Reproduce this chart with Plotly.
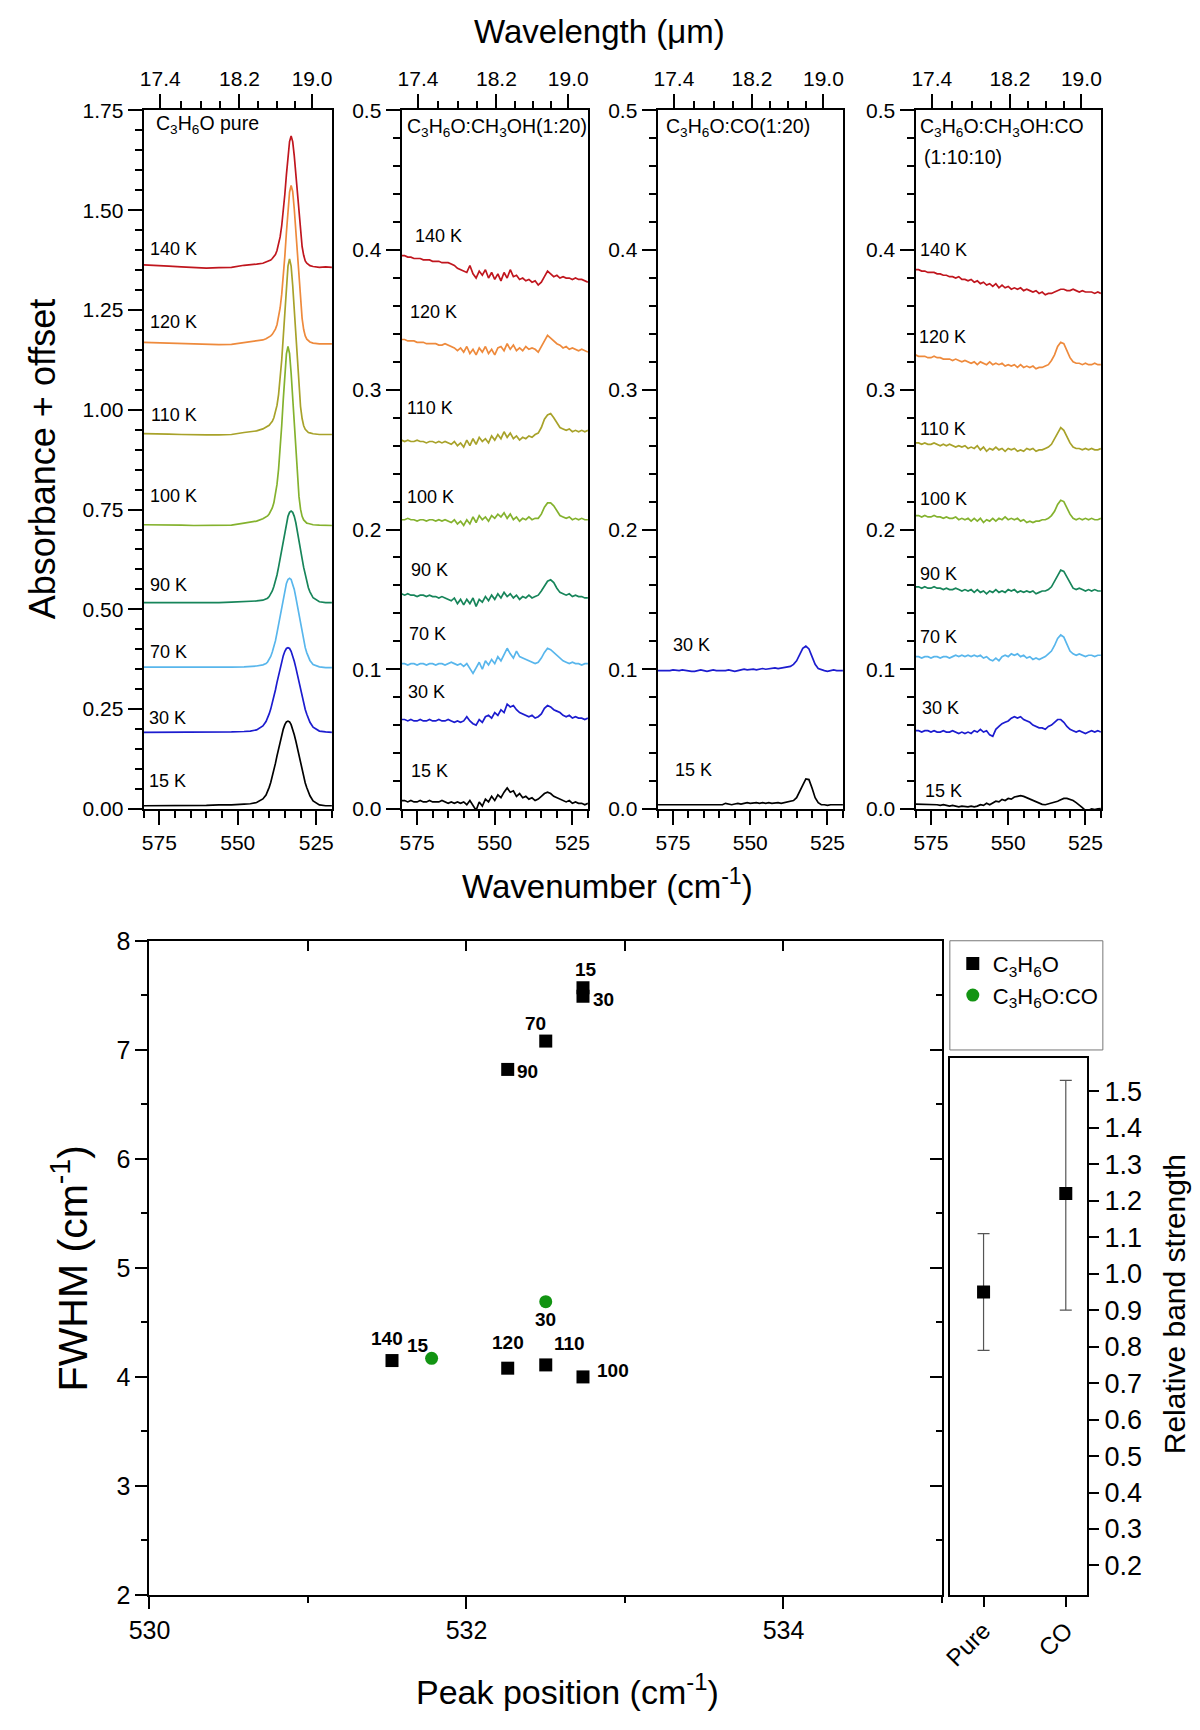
import plotly.graph_objects as go

W, H = 1200, 1730
FONT = "Liberation Sans, Arial, sans-serif"

# ---------------- DATA ----------------
TEMPS = ["140 K", "120 K", "110 K", "100 K", "90 K", "70 K", "30 K", "15 K"]

# wavelength ticks of the top axes (micrometres)
WL_MAJOR = [17.4, 18.2, 19.0]
WL_MINOR = [17.6, 17.8, 18.0, 18.4, 18.6, 18.8]

# Panel 1: pure C3H6O (absorbance, offsets added below)
X_P1 = [580, 576, 572, 568, 564, 560, 556, 552, 548, 546, 544, 542,
        541, 540.5, 540, 539.5, 539, 538.5, 538, 537.5, 537, 536.5, 536, 535.5, 535, 534.5,
        534, 533.5, 533, 532.5, 532, 531.5, 531, 530.5, 530, 529.5, 529, 528.5, 528, 527.5, 527,
        526, 524, 522, 520]
P1_140 = [.008, .007, .005, .003, .001, .000, .001, .002, .007, .008, .010, .012,
          .015, .016, .018, .020, .024, .028, .034, .044, .058, .078, .106, .142, .185, .234,
          .281, .317, .331, .317, .281, .232, .179, .130, .087, .054, .032, .018, .012, .009, .006,
          .004, .002, .003, .002]
P1_120 = [.009, .008, .007, .006, .004, .003, .003, .004, .008, .010, .012, .015,
          .018, .020, .022, .025, .029, .034, .042, .053, .070, .095, .129, .172, .225, .284,
          .342, .385, .402, .387, .343, .284, .220, .160, .108, .069, .041, .025, .017, .013, .010,
          .007, .005, .005, .005]
P1_110 = [.005, .005, .004, .003, .002, .002, .002, .003, .008, .010, .012, .017,
          .021, .023, .026, .031, .036, .045, .058, .076, .103, .141, .189, .248, .313, .376,
          .425, .443, .425, .377, .311, .241, .175, .117, .073, .043, .025, .016, .012, .008, .007,
          .005, .003, .003, .003]
P1_100 = [.003, .003, .002, .002, .001, .001, .001, .002, .007, .010, .012, .018,
          .022, .025, .030, .036, .045, .058, .077, .104, .142, .192, .251, .317, .382, .431,
          .450, .432, .383, .316, .244, .177, .118, .074, .042, .024, .015, .011, .007, .006, .005,
          .003, .002, .001, .001]
P1_90 = [.002, .002, .002, .001, .001, .002, .002, .003, .004, .005, .006, .008,
         .011, .013, .017, .023, .031, .042, .055, .071, .091, .112, .136, .160, .182, .202,
         .218, .228, .231, .228, .218, .202, .182, .160, .136, .112, .090, .070, .053, .039, .029,
         .014, .004, .002, .002]
P1_70 = [.003, .003, .002, .002, .002, .002, .002, .003, .004, .005, .006, .009,
         .012, .016, .022, .030, .041, .054, .069, .089, .110, .133, .156, .178, .198, .213,
         .223, .226, .223, .213, .198, .178, .156, .133, .110, .088, .069, .052, .039, .028, .020,
         .010, .004, .002, .002]
P1_30 = [.002, .002, .002, .002, .002, .002, .003, .003, .004, .005, .008, .018,
         .029, .037, .048, .060, .074, .090, .108, .127, .146, .164, .180, .194, .205, .212,
         .214, .212, .205, .194, .180, .164, .146, .127, .108, .090, .074, .059, .047, .036, .027,
         .015, .005, .003, .002]
P1_15 = [.008, .008, .008, .009, .009, .009, .010, .010, .012, .013, .016, .025,
         .035, .043, .054, .066, .080, .096, .114, .133, .152, .170, .186, .200, .211, .218,
         .220, .218, .211, .200, .186, .170, .152, .133, .114, .096, .080, .065, .053, .042, .033,
         .020, .010, .008, .008]
OFFSET_P1 = {"140 K": 1.355, "120 K": 1.16, "110 K": 0.935, "100 K": 0.709,
             "90 K": 0.515, "70 K": 0.352, "30 K": 0.19, "15 K": 0.0}

# common wavenumber grid for panels 2-4 (absorbance + offset read directly)
X_GRID = [580, 579, 578, 577, 576, 575, 574, 573, 572, 571,
          570, 569, 568, 567, 566, 565, 564, 563, 562, 561,
          560, 559, 558, 557, 556, 555, 554, 553, 552, 551,
          550, 549, 548, 547, 546, 545, 544, 543, 542, 541,
          540, 539, 538, 537, 536, 535, 534, 533, 532, 531,
          530, 529, 528, 527, 526, 525, 524, 523, 522, 521,
          520]

# Panel 2: C3H6O:CH3OH (1:20)
P2_140 = [.396, .396, .395, .395, .394, .394, .394, .393, .393, .393,
          .392, .392, .392, .391, .391, .391, .390, .389, .387, .386,
          .385, .384, .389, .383, .380, .385, .382, .386, .380, .384,
          .379, .383, .378, .384, .380, .386, .381, .382, .379, .380,
          .378, .379, .377, .378, .375, .377, .381, .385, .383, .381,
          .382, .380, .381, .380, .380, .379, .380, .379, .379, .378,
          .377]
P2_120 = [.336, .336, .335, .335, .335, .334, .334, .334, .333, .333,
          .333, .333, .332, .332, .333, .332, .331, .330, .328, .330,
          .327, .331, .326, .329, .325, .330, .327, .331, .326, .329,
          .325, .330, .331, .328, .333, .329, .332, .328, .330, .328,
          .331, .329, .330, .329, .327, .331, .336, .339, .337, .335,
          .333, .332, .330, .331, .329, .330, .329, .328, .329, .328,
          .327]
P2_110 = [.264, .263, .264, .263, .263, .264, .263, .263, .262, .263,
          .263, .262, .263, .262, .263, .262, .261, .263, .260, .262,
          .259, .264, .260, .265, .261, .266, .263, .265, .262, .267,
          .264, .268, .265, .270, .266, .269, .265, .267, .264, .266,
          .265, .267, .266, .268, .269, .273, .279, .282, .283, .280,
          .276, .273, .272, .271, .272, .270, .271, .270, .271, .270,
          .271]
P2_100 = [.207, .207, .208, .207, .207, .206, .207, .207, .206, .207,
          .207, .206, .207, .206, .207, .206, .205, .207, .204, .206,
          .203, .207, .204, .209, .205, .210, .207, .209, .206, .210,
          .208, .211, .209, .212, .208, .211, .207, .209, .206, .208,
          .207, .209, .207, .208, .208, .211, .216, .219, .219, .217,
          .213, .210, .209, .208, .209, .207, .208, .207, .208, .207,
          .207]
P2_90 = [.154, .153, .154, .153, .153, .152, .153, .153, .152, .153,
         .152, .152, .151, .152, .151, .150, .149, .151, .147, .150,
         .146, .150, .147, .151, .145, .150, .148, .152, .149, .153,
         .150, .154, .151, .155, .152, .154, .151, .153, .150, .152,
         .151, .153, .151, .152, .153, .156, .160, .163, .164, .162,
         .158, .155, .154, .153, .154, .152, .153, .152, .152, .151,
         .151]
P2_70 = [.104, .104, .103, .104, .104, .103, .104, .104, .103, .104,
         .104, .103, .104, .104, .103, .104, .105, .104, .103, .104,
         .102, .104, .100, .097, .101, .105, .100, .106, .103, .107,
         .104, .109, .106, .110, .115, .111, .108, .113, .109, .108,
         .107, .106, .105, .104, .105, .108, .112, .115, .114, .112,
         .110, .108, .106, .105, .104, .105, .104, .104, .103, .104,
         .104]
P2_30 = [.064, .064, .063, .064, .063, .063, .064, .063, .063, .064,
         .063, .063, .064, .063, .063, .064, .063, .062, .063, .062,
         .063, .066, .063, .061, .060, .064, .062, .066, .067, .065,
         .069, .067, .071, .069, .075, .073, .074, .071, .069, .068,
         .067, .066, .067, .065, .066, .068, .072, .074, .073, .071,
         .070, .069, .067, .066, .067, .065, .066, .065, .065, .064,
         .065]
P2_15 = [.006, .006, .005, .006, .005, .005, .006, .005, .005, .006,
         .005, .005, .005, .006, .005, .004, .005, .004, .005, .004,
         .005, .003, .006, .002, -.001, .005, .002, .007, .005, .009,
         .006, .010, .008, .012, .015, .012, .013, .009, .011, .008,
         .009, .007, .008, .006, .007, .009, .011, .012, .011, .009,
         .008, .007, .006, .005, .006, .004, .005, .004, .004, .003,
         .004]

# Panel 3: C3H6O:CO (1:20)
P3_30 = [.099, .099, .099, .0985, .099, .0995, .099, .099, .0995, .099,
         .099, .0985, .0985, .099, .0995, .099, .0985, .099, .0995, .099,
         .099, .0985, .099, .0995, .099, .0985, .099, .0995, .100, .0995,
         .100, .100, .0995, .100, .1005, .100, .1005, .1005, .101, .1005,
         .101, .101, .1015, .102, .1035, .106, .1105, .115, .1165, .1145,
         .109, .1035, .1005, .0995, .099, .0985, .099, .0995, .099, .099,
         .099]
P3_15 = [.003, .003, .003, .003, .0035, .003, .003, .003, .003, .0035,
         .003, .003, .003, .0035, .003, .003, .003, .0035, .003, .003,
         .0035, .003, .004, .0035, .003, .0035, .004, .0035, .004, .0045,
         .004, .0045, .0045, .004, .0045, .004, .0045, .004, .0045, .0045,
         .004, .0045, .005, .005, .006, .008, .012, .017, .0215, .021,
         .015, .008, .0045, .003, .003, .0025, .003, .003, .0025, .003,
         .003]

# Panel 4: C3H6O:CH3OH:CO (1:10:10)
P4_140 = [.386, .386, .385, .385, .384, .384, .384, .383, .383, .382,
          .382, .381, .381, .380, .381, .379, .379, .378, .379, .377,
          .378, .376, .377, .375, .376, .374, .376, .373, .375, .373,
          .374, .372, .373, .372, .373, .371, .372, .371, .370, .371,
          .369, .370, .368, .369, .369, .370, .371, .372, .372, .371,
          .371, .372, .371, .370, .371, .370, .370, .370, .369, .370,
          .369]
P4_120 = [.325, .324, .324, .324, .323, .323, .324, .323, .323, .322,
          .322, .322, .321, .322, .321, .320, .321, .320, .319, .320,
          .318, .320, .319, .318, .320, .318, .319, .318, .319, .317,
          .318, .317, .318, .316, .318, .316, .317, .316, .317, .315,
          .316, .316, .317, .318, .321, .325, .331, .334, .333, .328,
          .323, .320, .319, .319, .318, .319, .318, .318, .319, .318,
          .318]
P4_110 = [.262, .262, .261, .262, .261, .261, .262, .261, .260, .261,
          .260, .261, .260, .259, .260, .259, .260, .258, .259, .258,
          .260, .257, .259, .256, .258, .257, .259, .257, .258, .256,
          .258, .257, .258, .256, .257, .256, .258, .257, .258, .256,
          .257, .257, .258, .259, .261, .265, .270, .273, .271, .266,
          .262, .259, .258, .258, .257, .258, .257, .258, .257, .257,
          .258]
P4_100 = [.210, .210, .209, .210, .209, .209, .210, .209, .209, .208,
          .209, .208, .208, .209, .207, .208, .207, .208, .206, .208,
          .206, .208, .205, .207, .206, .208, .206, .208, .207, .209,
          .207, .208, .207, .208, .206, .207, .205, .206, .205, .206,
          .206, .207, .207, .208, .210, .213, .218, .221, .220, .215,
          .211, .208, .207, .208, .207, .208, .207, .208, .207, .207,
          .208]
P4_90 = [.159, .159, .158, .159, .158, .158, .159, .158, .158, .157,
         .158, .157, .157, .158, .157, .156, .157, .156, .157, .155,
         .157, .155, .156, .154, .156, .155, .157, .155, .156, .155,
         .157, .156, .157, .155, .156, .155, .156, .155, .156, .154,
         .155, .156, .156, .157, .159, .163, .168, .171, .170, .166,
         .161, .158, .157, .158, .157, .156, .157, .156, .157, .156,
         .156]
P4_70 = [.109, .109, .108, .109, .109, .108, .109, .109, .108, .109,
         .109, .108, .109, .110, .109, .110, .109, .110, .109, .110,
         .109, .110, .108, .109, .107, .106, .108, .106, .109, .110,
         .109, .111, .110, .111, .109, .110, .108, .109, .107, .108,
         .107, .108, .109, .111, .113, .117, .122, .1245, .123, .118,
         .113, .111, .110, .111, .110, .109, .110, .110, .109, .110,
         .110]
P4_30 = [.056, .056, .055, .056, .056, .055, .056, .055, .055, .056,
         .055, .055, .056, .055, .054, .055, .054, .055, .054, .056,
         .055, .057, .055, .056, .053, .052, .057, .059, .061, .062,
         .063, .065, .066, .065, .066, .064, .063, .062, .060, .059,
         .058, .058, .057, .059, .060, .062, .064, .064, .062, .059,
         .057, .056, .055, .056, .055, .054, .055, .056, .055, .056,
         .055]
P4_15 = [.0035, .0035, .003, .0035, .003, .003, .0035, .003, .0025, .003,
         .0025, .002, .0025, .002, .0015, .002, .0015, .0015, .002, .0015,
         .002, .003, .0025, .004, .003, .0045, .0055, .005, .0068, .006,
         .0075, .007, .0085, .009, .0095, .009, .008, .007, .006, .005,
         .004, .0033, .003, .0035, .004, .005, .0055, .0065, .0075, .0075,
         .007, .006, .0045, .003, .001, -.0012, -.001, 0, -.0005, 0,
         .0002]

# Bottom: FWHM vs peak position
PURE_TEMP = ["15", "30", "70", "90", "140", "120", "110", "100"]
PURE_POS = [532.735, 532.735, 532.50, 532.26, 531.53, 532.26, 532.50, 532.735]
PURE_FWHM = [7.57, 7.49, 7.08, 6.82, 4.15, 4.08, 4.11, 4.00]
CO_TEMP = ["15", "30"]
CO_POS = [531.78, 532.50]
CO_FWHM = [4.17, 4.69]

# Inset: relative band strength
BS_CAT = ["Pure", "CO"]
BS_VAL = [0.95, 1.22]
BS_ERR_PLUS = [0.16, 0.31]
BS_ERR_MINUS = [0.16, 0.32]

# ---------------- STYLE ----------------
COLORS = {"140 K": "#C0161E", "120 K": "#EE8A3C", "110 K": "#A8A22A", "100 K": "#84B22E",
          "90 K": "#17855A", "70 K": "#58B6EC", "30 K": "#1C1CCF", "15 K": "#000000"}
GREEN = "#129412"


def fx(p):
    return p / W


def fy(p):
    return 1 - p / H


for arr in [P1_140, P1_120, P1_110, P1_100, P1_90, P1_70, P1_30, P1_15]:
    assert len(arr) == len(X_P1)
for arr in [P2_140, P2_120, P2_110, P2_100, P2_90, P2_70, P2_30, P2_15, P3_30, P3_15,
            P4_140, P4_120, P4_110, P4_100, P4_90, P4_70, P4_30, P4_15]:
    assert len(arr) == len(X_GRID)

PANELS = [
    dict(px=(125, 317), x=X_P1, offsets=OFFSET_P1,
         series=list(zip(TEMPS, [P1_140, P1_120, P1_110, P1_100, P1_90, P1_70, P1_30, P1_15])),
         yrange=[0, 1.75], dtick=0.25, minor=0.05, fmt=".2f",
         title=[("C<sub>3</sub>H<sub>6</sub>O pure", 136, 112)],
         labels={"140 K": (129, 1.404), "120 K": (129, 1.219), "110 K": (131, 0.987),
                 "100 K": (129, 0.783), "90 K": (129, 0.561), "70 K": (129, 0.394),
                 "30 K": (128, 0.229), "15 K": (128, 0.069)}),
    dict(px=(388, 578), x=X_GRID, offsets=None,
         series=list(zip(TEMPS, [P2_140, P2_120, P2_110, P2_100, P2_90, P2_70, P2_30, P2_15])),
         yrange=[0, 0.5], dtick=0.1, minor=0.02, fmt=".1f",
         title=[("C<sub>3</sub>H<sub>6</sub>O:CH<sub>3</sub>OH(1:20)", 391, 115)],
         labels={"140 K": (400, 0.41), "120 K": (395, 0.356), "110 K": (392, 0.287),
                 "100 K": (392, 0.223), "90 K": (396, 0.171), "70 K": (394, 0.125),
                 "30 K": (393, 0.084), "15 K": (396, 0.027)}),
    dict(px=(649, 838), x=X_GRID, offsets=None,
         series=[("30 K", P3_30), ("15 K", P3_15)],
         yrange=[0, 0.5], dtick=0.1, minor=0.02, fmt=".1f",
         title=[("C<sub>3</sub>H<sub>6</sub>O:CO(1:20)", 656, 115)],
         labels={"30 K": (663, 0.117), "15 K": (665, 0.028)}),
    dict(px=(912, 1101), x=X_GRID, offsets=None,
         series=list(zip(TEMPS, [P4_140, P4_120, P4_110, P4_100, P4_90, P4_70, P4_30, P4_15])),
         yrange=[0, 0.5], dtick=0.1, minor=0.02, fmt=".1f",
         title=[("C<sub>3</sub>H<sub>6</sub>O:CH<sub>3</sub>OH:CO", 915, 115), ("(1:10:10)", 919, 145)],
         labels={"140 K": (915, 0.40), "120 K": (913, 0.338), "110 K": (915, 0.272),
                 "100 K": (915, 0.222), "90 K": (915, 0.168), "70 K": (915, 0.123),
                 "30 K": (917, 0.0725), "15 K": (920, 0.0127)}),
]

TOP, BOT = 98, 808
TICKFONT = dict(family=FONT, size=21, color="black")
AX = dict(showgrid=False, zeroline=False, showline=True, linewidth=2, linecolor="black",
          tickcolor="black", tickwidth=2, type="linear")

fig = go.Figure()
layout = {}
annotations = []
shapes = []

for i, p in enumerate(PANELS):
    n = i + 1
    s = "" if n == 1 else str(n)
    xname, yname = "x" + s, "y" + s
    for temp, vals in p["series"]:
        off = p["offsets"][temp] if p["offsets"] else 0.0
        fig.add_trace(go.Scatter(x=p["x"], y=[v + off for v in vals], mode="lines",
                                 line=dict(color=COLORS[temp], width=1.7),
                                 xaxis=xname, yaxis=yname, showlegend=False, hoverinfo="skip"))
    x0, x1 = p["px"]
    layout["xaxis" + s] = dict(AX, domain=[fx(x0), fx(x1)], anchor=yname, range=[580, 520],
                               tickmode="linear", tick0=525, dtick=25, ticks="outside", ticklen=14,
                               tickfont=TICKFONT, mirror=False,
                               minor=dict(tickmode="linear", tick0=520, dtick=5, ticks="outside",
                                          ticklen=7, tickwidth=2, tickcolor="black", showgrid=False))
    layout["yaxis" + s] = dict(AX, domain=[fy(BOT), fy(TOP)], anchor=xname, range=p["yrange"],
                               tickmode="linear", tick0=0, dtick=p["dtick"], tickformat=p["fmt"],
                               ticks="outside", ticklen=14, tickfont=TICKFONT, mirror=True,
                               minor=dict(tickmode="linear", tick0=0, dtick=p["minor"], ticks="outside",
                                          ticklen=7, tickwidth=2, tickcolor="black", showgrid=False))
    tn = str(n + 4)
    layout["xaxis" + tn] = dict(AX, overlaying=xname, side="top", anchor=yname, range=[580, 520],
                                tickmode="array", tickvals=[1e4 / w for w in WL_MAJOR],
                                ticktext=["%.1f" % w for w in WL_MAJOR], ticks="outside", ticklen=14,
                                tickfont=TICKFONT,
                                minor=dict(tickmode="array", tickvals=[1e4 / w for w in WL_MINOR],
                                           ticks="outside", ticklen=7, tickwidth=2, tickcolor="black",
                                           showgrid=False))
    fig.add_trace(go.Scatter(x=[None], y=[None], xaxis="x" + tn, yaxis=yname,
                             showlegend=False, hoverinfo="skip"))
    for text, tx, ty in p["title"]:
        annotations.append(dict(text=text, xref="paper", yref="paper", x=fx(tx), y=fy(ty),
                                xanchor="left", yanchor="middle", showarrow=False,
                                font=dict(family=FONT, size=19.5, color="black")))
    for temp, (lx, ly) in p["labels"].items():
        annotations.append(dict(text=temp, xref="paper", yref=yname, x=fx(lx), y=ly,
                                xanchor="left", yanchor="middle", showarrow=False,
                                font=dict(family=FONT, size=18, color="black")))

# axis titles of the top block
annotations += [
    dict(text="Wavelength (\u03bcm)", xref="paper", yref="paper", x=fx(590), y=fy(18),
         xanchor="center", yanchor="middle", showarrow=False, font=dict(family=FONT, size=33, color="black")),
    dict(text="Wavenumber (cm<sup>-1</sup>)", xref="paper", yref="paper", x=fx(598), y=fy(884),
         xanchor="center", yanchor="middle", showarrow=False, font=dict(family=FONT, size=33, color="black")),
    dict(text="Absorbance + offset", xref="paper", yref="paper", x=fx(22), y=fy(452), textangle=-90,
         xanchor="center", yanchor="middle", showarrow=False, font=dict(family=FONT, size=36, color="black")),
]

# ---------------- bottom main plot ----------------
MX0, MX1, MY0, MY1 = 131, 939, 942, 1607
BIGTICK = dict(family=FONT, size=25, color="black")

fig.add_trace(go.Scatter(x=PURE_POS, y=PURE_FWHM, mode="markers", name="C<sub>3</sub>H<sub>6</sub>O",
                         marker=dict(symbol="square", size=13, color="black"),
                         xaxis="x9", yaxis="y9", hoverinfo="skip"))
fig.add_trace(go.Scatter(x=CO_POS, y=CO_FWHM, mode="markers", name="C<sub>3</sub>H<sub>6</sub>O:CO",
                         marker=dict(symbol="circle", size=13, color=GREEN),
                         xaxis="x9", yaxis="y9", hoverinfo="skip"))
fig.add_trace(go.Scatter(x=[None], y=[None], xaxis="x10", yaxis="y9", showlegend=False, hoverinfo="skip"))
fig.add_trace(go.Scatter(x=[None], y=[None], xaxis="x9", yaxis="y10", showlegend=False, hoverinfo="skip"))

layout["xaxis9"] = dict(AX, domain=[fx(MX0), fx(MX1)], anchor="y9", range=[530, 535],
                        tickmode="linear", tick0=530, dtick=2, ticks="outside", ticklen=12,
                        tickfont=BIGTICK,
                        minor=dict(tickmode="linear", tick0=530, dtick=1, ticks="outside", ticklen=6,
                                   tickwidth=2, tickcolor="black", showgrid=False))
layout["yaxis9"] = dict(AX, domain=[fy(MY1), fy(MY0)], anchor="x9", range=[2, 8],
                        tickmode="linear", tick0=2, dtick=1, ticks="outside", ticklen=12,
                        tickfont=BIGTICK,
                        minor=dict(tickmode="linear", tick0=2, dtick=0.5, ticks="outside", ticklen=6,
                                   tickwidth=2, tickcolor="black", showgrid=False))
layout["xaxis10"] = dict(AX, overlaying="x9", side="top", anchor="y9", range=[530, 535],
                         tickmode="linear", tick0=530, dtick=1, ticks="inside", ticklen=10,
                         showticklabels=False)
layout["yaxis10"] = dict(AX, overlaying="y9", side="right", anchor="x9", range=[2, 8],
                         tickmode="linear", tick0=2, dtick=1, ticks="inside", ticklen=12,
                         showticklabels=False,
                         minor=dict(tickmode="linear", tick0=2, dtick=0.5, ticks="inside", ticklen=6,
                                    tickwidth=2, tickcolor="black", showgrid=False))

LABEL_SHIFT = {("p", 0): (3, 18), ("p", 1): (21, -3), ("p", 2): (-10, 18), ("p", 3): (20, -2),
               ("p", 4): (-5, 22), ("p", 5): (0, 26), ("p", 6): (24, 21), ("p", 7): (30, 6),
               ("c", 0): (-14, 13), ("c", 1): (0, -18)}
LABEL_FONT = dict(family=FONT, size=19, color="black", weight="bold")
for k, (t, xv, yv) in enumerate(zip(PURE_TEMP, PURE_POS, PURE_FWHM)):
    dx, dy = LABEL_SHIFT[("p", k)]
    annotations.append(dict(text=t, xref="x9", yref="y9", x=xv, y=yv, xshift=dx, yshift=dy,
                            showarrow=False, font=LABEL_FONT))
for k, (t, xv, yv) in enumerate(zip(CO_TEMP, CO_POS, CO_FWHM)):
    dx, dy = LABEL_SHIFT[("c", k)]
    annotations.append(dict(text=t, xref="x9", yref="y9", x=xv, y=yv, xshift=dx, yshift=dy,
                            showarrow=False, font=LABEL_FONT))

annotations += [
    dict(text="FWHM (cm<sup>-1</sup>)", xref="paper", yref="paper", x=fx(50), y=fy(1275), textangle=-90,
         xanchor="center", yanchor="middle", showarrow=False, font=dict(family=FONT, size=41, color="black")),
    dict(text="Peak position (cm<sup>-1</sup>)", xref="paper", yref="paper", x=fx(557), y=fy(1703),
         xanchor="center", yanchor="middle", showarrow=False, font=dict(family=FONT, size=34, color="black")),
    dict(text="Relative band strength", xref="paper", yref="paper", x=fx(1176), y=fy(1311), textangle=-90,
         xanchor="center", yanchor="middle", showarrow=False, font=dict(family=FONT, size=30, color="black")),
]

# ---------------- inset: relative band strength ----------------
IX0, IX1, IY0, IY1 = 947, 1087, 1061, 1607
fig.add_trace(go.Scatter(x=[1, 2], y=BS_VAL, mode="markers", showlegend=False, hoverinfo="skip",
                         marker=dict(symbol="square", size=13, color="black"),
                         error_y=dict(type="data", symmetric=False, array=BS_ERR_PLUS,
                                      arrayminus=BS_ERR_MINUS, color="#555555", thickness=1.2, width=6),
                         xaxis="x11", yaxis="y11"))
layout["xaxis11"] = dict(AX, domain=[fx(IX0), fx(IX1)], anchor="y11", range=[0.59, 2.26],
                         tickmode="array", tickvals=[1, 2], ticktext=BS_CAT, ticks="outside", ticklen=10,
                         tickangle=-45, mirror=True, tickfont=dict(family=FONT, size=24, color="black"))
layout["yaxis11"] = dict(AX, domain=[fy(IY1), fy(IY0)], anchor="x11", side="right", range=[0.119, 1.592],
                         tickmode="linear", tick0=0, dtick=0.1, tickformat=".1f", ticks="outside",
                         ticklen=10, mirror=True, tickfont=dict(family=FONT, size=27, color="black"))

# legend box
shapes.append(dict(type="rect", xref="paper", yref="paper", x0=fx(947), x1=fx(1103), y0=fy(1053), y1=fy(942),
                   line=dict(color="#777777", width=1), fillcolor="rgba(0,0,0,0)"))

fig.update_layout(
    width=W, height=H, autosize=False,
    margin=dict(l=0, r=0, t=0, b=0),
    paper_bgcolor="white", plot_bgcolor="white",
    font=dict(family=FONT, color="black"),
    legend=dict(x=fx(950), y=fy(944), xanchor="left", yanchor="top", bgcolor="rgba(0,0,0,0)",
                borderwidth=0, font=dict(family=FONT, size=22, color="black"), tracegroupgap=0),
    annotations=annotations, shapes=shapes,
    **layout,
)

fig.write_html("out.html", config={"displayModeBar": False, "staticPlot": True},
               post_script="document.body.style.margin='0px';")
